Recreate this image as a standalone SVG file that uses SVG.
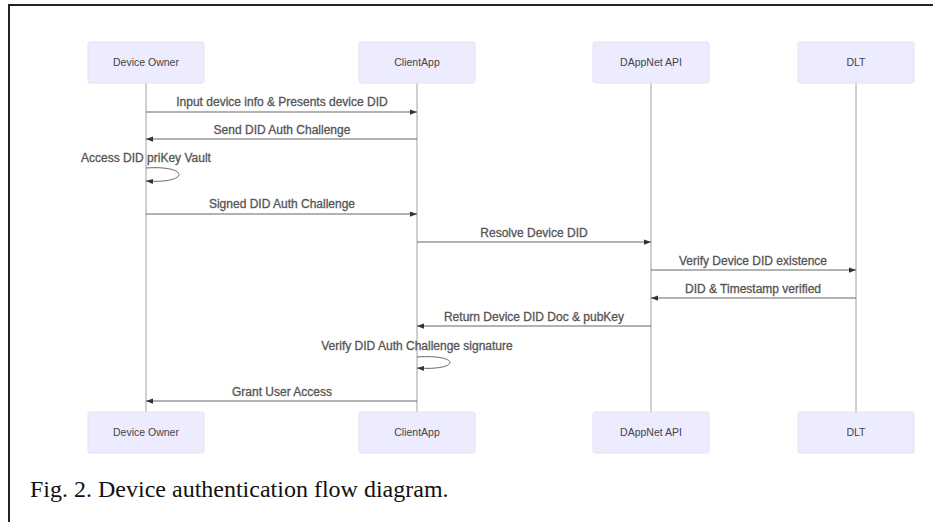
<svg xmlns="http://www.w3.org/2000/svg" width="933" height="522" viewBox="0 0 933 522">
<style>
.actor{fill:#ececfe;stroke:#e2e2f2;stroke-width:1}
.atext{font-family:"Liberation Sans",Arial,sans-serif;font-size:10.5px;fill:#444;text-anchor:middle}
.life{stroke:#a0a0a0;stroke-width:1;fill:none}
.msg{stroke:#666;stroke-width:1;fill:none}
.mtext{font-family:"Liberation Sans",Arial,sans-serif;font-size:12px;fill:#555;text-anchor:middle;stroke:#555;stroke-width:0.3}
.cap{font-family:"Liberation Serif","Times New Roman",serif;font-size:24px;fill:#111}
</style>
<defs>
<marker id="ah" viewBox="0 0 8 8" refX="8" refY="4" markerWidth="7" markerHeight="7" orient="auto" markerUnits="userSpaceOnUse">
<path d="M0,1 L8,4 L0,7 z" fill="#333"/>
</marker>
</defs>
<rect x="0" y="0" width="933" height="522" fill="#fff"/>
<path d="M9,522 L9,5 L933,5" fill="none" stroke="#222" stroke-width="2"/>
<g id="lifelines">
<line class="life" x1="146" y1="83" x2="146" y2="412"/>
<line class="life" x1="417" y1="83" x2="417" y2="412"/>
<line class="life" x1="651" y1="83" x2="651" y2="412"/>
<line class="life" x1="856" y1="83" x2="856" y2="412"/>
</g>
<g id="actor-device-owner-top"><rect class="actor" x="88" y="42" width="116" height="41" rx="2"/><text class="atext" x="146" y="66">Device Owner</text></g>
<g id="actor-clientapp-top"><rect class="actor" x="359" y="42" width="116" height="41" rx="2"/><text class="atext" x="417" y="66">ClientApp</text></g>
<g id="actor-dappnet-top"><rect class="actor" x="593" y="42" width="116" height="41" rx="2"/><text class="atext" x="651" y="66">DAppNet API</text></g>
<g id="actor-dlt-top"><rect class="actor" x="798" y="42" width="116" height="41" rx="2"/><text class="atext" x="856" y="66">DLT</text></g>
<g id="actor-device-owner-bottom"><rect class="actor" x="88" y="412" width="116" height="41" rx="2"/><text class="atext" x="146" y="436">Device Owner</text></g>
<g id="actor-clientapp-bottom"><rect class="actor" x="359" y="412" width="116" height="41" rx="2"/><text class="atext" x="417" y="436">ClientApp</text></g>
<g id="actor-dappnet-bottom"><rect class="actor" x="593" y="412" width="116" height="41" rx="2"/><text class="atext" x="651" y="436">DAppNet API</text></g>
<g id="actor-dlt-bottom"><rect class="actor" x="798" y="412" width="116" height="41" rx="2"/><text class="atext" x="856" y="436">DLT</text></g>
<g id="connectors">
<line class="msg" x1="146" y1="112" x2="417" y2="112" marker-end="url(#ah)"/>
<text class="mtext" x="282" y="106">Input device info &amp; Presents device DID</text>
<line class="msg" x1="417" y1="139" x2="146" y2="139" marker-end="url(#ah)"/>
<text class="mtext" x="282" y="134">Send DID Auth Challenge</text>
<path class="msg" d="M146,168 C190,165 190,184 146,181" marker-end="url(#ah)"/>
<text class="mtext" x="146" y="162">Access DID priKey Vault</text>
<line class="msg" x1="146" y1="214" x2="417" y2="214" marker-end="url(#ah)"/>
<text class="mtext" x="282" y="208">Signed DID Auth Challenge</text>
<line class="msg" x1="417" y1="242" x2="651" y2="242" marker-end="url(#ah)"/>
<text class="mtext" x="534" y="237">Resolve Device DID</text>
<line class="msg" x1="651" y1="270" x2="856" y2="270" marker-end="url(#ah)"/>
<text class="mtext" x="753" y="265">Verify Device DID existence</text>
<line class="msg" x1="856" y1="298" x2="651" y2="298" marker-end="url(#ah)"/>
<text class="mtext" x="753" y="293">DID &amp; Timestamp verified</text>
<line class="msg" x1="651" y1="326" x2="417" y2="326" marker-end="url(#ah)"/>
<text class="mtext" x="534" y="321">Return Device DID Doc &amp; pubKey</text>
<path class="msg" d="M417,357 C461,354 461,371 417,368" marker-end="url(#ah)"/>
<text class="mtext" x="417" y="350">Verify DID Auth Challenge signature</text>
<line class="msg" x1="417" y1="401" x2="146" y2="401" marker-end="url(#ah)"/>
<text class="mtext" x="282" y="396">Grant User Access</text>
</g>
<text class="cap" x="30" y="497">Fig. 2. Device authentication flow diagram.</text>
</svg>
